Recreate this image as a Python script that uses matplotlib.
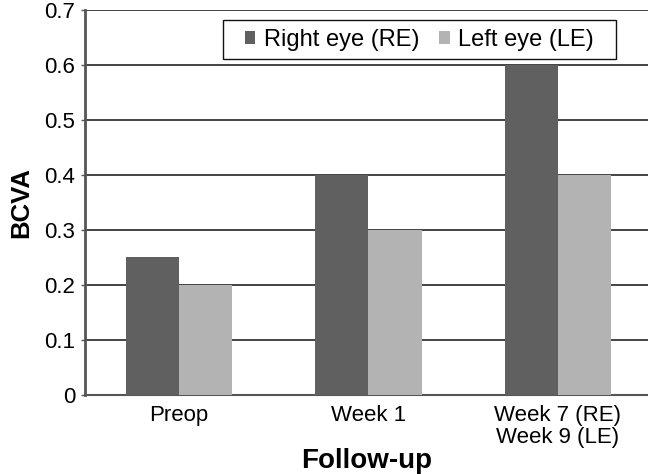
import matplotlib.pyplot as plt
import matplotlib.patches as mpatches
import numpy as np

plt.rcParams['font.family'] = ['Liberation Sans', 'DejaVu Sans']

categories = ['Preop', 'Week 1', 'Week 7 (RE)\nWeek 9 (LE)']
right_eye = [0.25, 0.40, 0.60]
left_eye = [0.20, 0.30, 0.40]
series_names = ['Right eye (RE)', 'Left eye (LE)']

fig = plt.figure(figsize=(6.48, 4.74), dpi=100)
ax = fig.add_axes([0.131, 0.1667, 0.869, 0.8123])

x = np.arange(len(categories))
w = 0.28
ax.bar(x - w / 2, right_eye, w, color='#606060', label=series_names[0], zorder=3)
ax.bar(x + w / 2, left_eye, w, color='#b3b3b3', label=series_names[1], zorder=3)

ax.set_ylim(0, 0.7)
ax.set_xlim(-0.496, 2.475)
ax.set_yticks(np.arange(0, 0.71, 0.1))
ax.set_yticklabels(['0', '0.1', '0.2', '0.3', '0.4', '0.5', '0.6', '0.7'])
ax.set_xticks(x)
ax.set_xticklabels(categories, fontsize=16, linespacing=1.1)
ax.tick_params(axis='y', labelsize=16, length=3, width=1, color='#555555', pad=4)
ax.tick_params(axis='x', length=0, pad=7)

ax.yaxis.grid(True, color='#111111', linewidth=1.1, zorder=0)
ax.set_axisbelow(True)
for s in ['top', 'right']:
    ax.spines[s].set_visible(False)
ax.spines['left'].set_color('#555555')
ax.spines['left'].set_linewidth(2)
ax.spines['bottom'].set_color('#555555')
ax.spines['bottom'].set_linewidth(1.5)

ax.set_ylabel('BCVA', fontsize=18.5, fontweight='bold', labelpad=8)
ax.set_xlabel('Follow-up', fontsize=20, fontweight='bold', labelpad=0)

# legend without its own frame; box drawn around it afterwards
leg = ax.legend(loc='upper left', bbox_to_anchor=(0.284, 0.951), ncol=2,
                fontsize=17, frameon=False,
                handlelength=0.45, handleheight=0.45, handletextpad=0.35,
                columnspacing=0.85, borderpad=0.0, borderaxespad=0)
leg.set_zorder(6)
fig.canvas.draw()
bb = leg.get_window_extent().transformed(fig.transFigure.inverted())
padx, pady = 22 / 648, 8.5 / 474
frame = mpatches.Rectangle((bb.x0 - padx, bb.y0 - pady), bb.width + 2 * padx,
                           bb.height + 2 * pady, transform=fig.transFigure,
                           facecolor='white', edgecolor='#111111',
                           linewidth=1.0, zorder=5, clip_on=False)
ax.add_artist(frame)

fig.savefig('out.png', dpi=100)
